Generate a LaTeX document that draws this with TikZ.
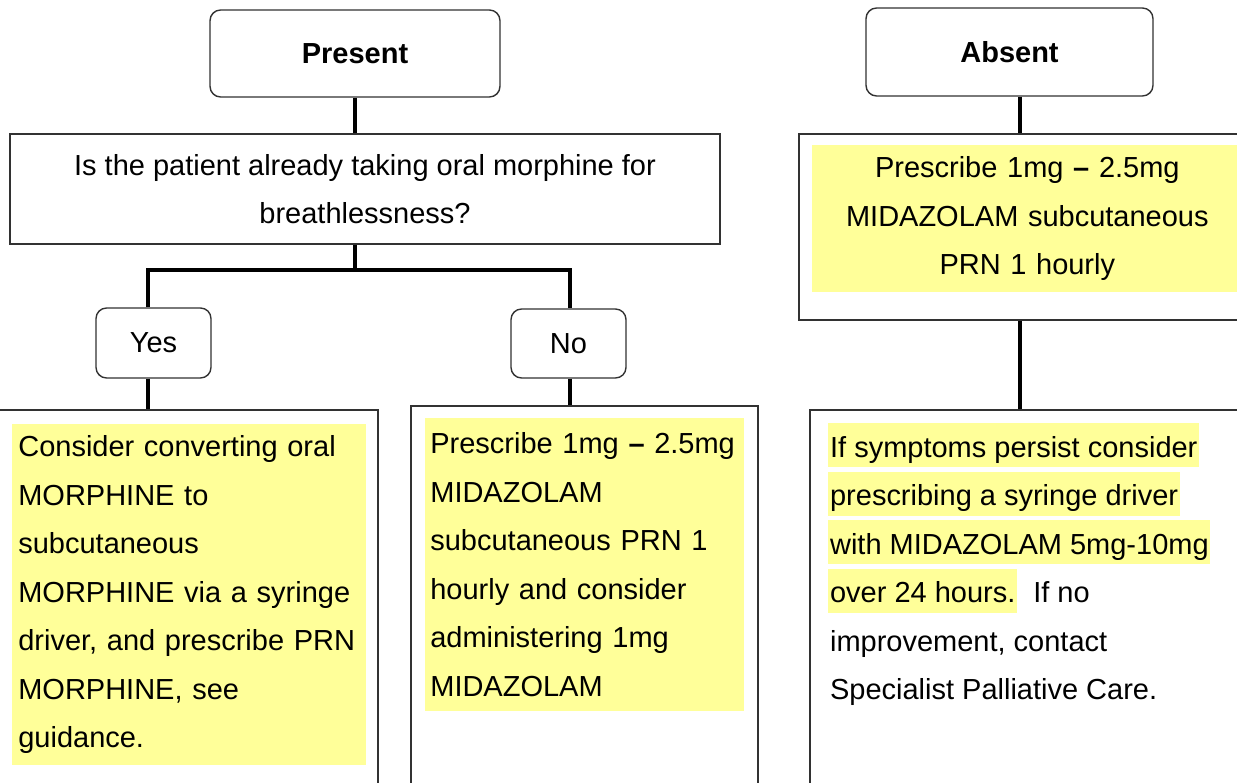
\documentclass[tikz,border=0pt]{standalone}
\usepackage{fontspec}
\setmainfont{Liberation Sans}
\usetikzlibrary{positioning,calc}

\definecolor{hl}{RGB}{255,255,153}
\definecolor{edge}{RGB}{50,50,50}

% one highlighted line of text
\newcommand{\hlline}[1]{{\setlength{\fboxsep}{0pt}\colorbox{hl}{\rule[-5.7pt]{0pt}{25pt}\kern1pt#1\kern1pt}}}

\tikzset{
  txt/.style={font=\fontsize{16.5}{27.6}\selectfont},
  pill/.style={draw=edge, line width=0.8pt, rounded corners=6pt, fill=white, txt},
  title/.style={pill, font=\fontsize{16.5}{27.6}\selectfont\bfseries},
  panel/.style={draw=edge, line width=0.8pt, fill=white, txt},
  note/.style={fill=hl, anchor=north west, align=left, inner xsep=0.12cm, txt},
  link/.style={line width=2.6pt, black},
}

\begin{document}
\begin{tikzpicture}[x=0.02cm, y=-0.02cm]

\useasboundingbox (0,0) rectangle (1237,783);
\fill[white] (0,0) rectangle (1237,783);
\clip (0,0) rectangle (1237,783);

% ================= LEFT: PRESENT =================
\node[title, minimum width=5.8cm, minimum height=1.74cm] (present) at (355,53.5) {Present};

\node[panel, minimum width=14.2cm, minimum height=2.2cm, align=center] (quest) at (365,189)
{Is the patient already taking oral morphine for\\breathlessness?};

\node[pill, minimum width=2.3cm, minimum height=1.4cm] (yes) at (153.5,343) {Yes};
\node[pill, minimum width=2.3cm, minimum height=1.38cm] (no) at (568.5,343.5) {No};

\node[panel, minimum width=7.6cm, minimum height=7.8cm] (lpanel) at (188,605) {};
\node[panel, minimum width=6.94cm, minimum height=7.88cm] (mpanel) at (584.5,603) {};

\node[note, text width=6.84cm, minimum height=6.82cm] (lnote) at (12,424)
{Consider converting oral\\MORPHINE to\\subcutaneous\\MORPHINE via a syringe\\driver, and prescribe PRN\\MORPHINE, see\\guidance.};

\node[note, inner xsep=0.1cm, text width=6.18cm, minimum height=5.86cm] (mnote) at (425,418)
{Prescribe 1mg \textbf{--} 2.5mg\\MIDAZOLAM\\subcutaneous PRN 1\\hourly and consider\\administering 1mg\\MIDAZOLAM};

% ================= RIGHT: ABSENT =================
\node[title, minimum width=5.74cm, minimum height=1.76cm] (absent) at (1009.5,52) {Absent};

\node[panel, minimum width=9.12cm, minimum height=3.72cm] (rtpanel) at (1027,227) {};
\node[note, align=center, inner xsep=0.2cm, text width=8.2cm, minimum height=2.94cm] (rtnote) at (812,145)
{Prescribe 1mg \textbf{--} 2.5mg\\MIDAZOLAM subcutaneous\\PRN 1 hourly};

\node[panel, minimum width=8.9cm, minimum height=7.8cm] (rbpanel) at (1032.5,605) {};
\node[txt, anchor=north west, align=left, inner sep=0pt] (rbnote) at (828,423)
{\hlline{If symptoms persist consider}\\
 \hlline{prescribing a syringe driver}\\
 \hlline{with MIDAZOLAM 5mg-10mg}\\
 \hlline{over 24 hours.}\ \ If no\\
 \kern1pt improvement, contact\\
 \kern1pt Specialist Palliative Care.};

% ================= CONNECTORS =================
\coordinate (barL) at (148,270);
\coordinate (barM) at (355,270);
\coordinate (barR) at (570,270);
\coordinate (rlane) at (1020,0);

\draw[link] (present.south) -- (present.south |- quest.north);
\draw[link] (quest.south -| barM) -- (barM);
\draw[link] (yes.north -| barL) -- (barL) -- (barR) -- (no.north -| barR);
\draw[link] (yes.south -| barL) -- (lpanel.north -| barL);
\draw[link] (no.south -| barR) -- (mpanel.north -| barR);
\draw[link] (absent.south -| rlane) -- (rtpanel.north -| rlane);
\draw[link] (rtpanel.south -| rlane) -- (rbpanel.north -| rlane);

\end{tikzpicture}
\end{document}
